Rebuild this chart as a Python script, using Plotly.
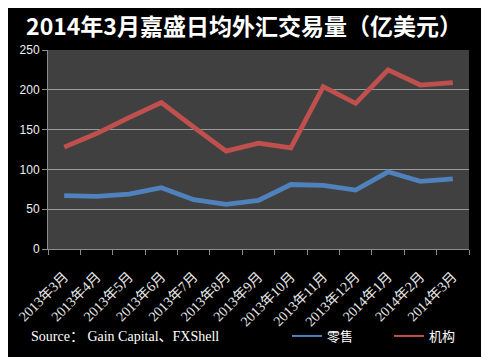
import plotly.graph_objects as go

categories = ["2013年3月", "2013年4月", "2013年5月", "2013年6月", "2013年7月", "2013年8月",
              "2013年9月", "2013年10月", "2013年11月", "2013年12月", "2014年1月", "2014年2月", "2014年3月"]
retail = [67, 66, 69, 77, 62, 56, 61, 81, 80, 74, 97, 85, 88]
institutional = [128, 145, 165, 184, 153, 123, 133, 127, 204, 183, 225, 206, 209]
y_ticks = [0, 50, 100, 150, 200, 250]
series_names = ["零售", "机构"]
series_colors = ["#4F81BD", "#C0504D"]

OFF = 8  # default page body margin
W, H = 493 - OFF, 357 - OFF
# plot area in reference pixel coordinates
PX0, PX1, PY0, PY1 = 48, 469, 50, 249
L, R, T, B = PX0 - OFF, W - (PX1 - OFF), PY0 - OFF, H - (PY1 - OFF)
pw, ph = PX1 - PX0, PY1 - PY0

def px_x(p):
    return (p - PX0) / pw

def px_y(p):
    return (PY1 - p) / ph

fig = go.Figure()
for name, vals, col in zip(series_names, [retail, institutional], series_colors):
    fig.add_trace(go.Scatter(x=categories, y=vals, name=name, mode="lines", showlegend=False,
                             legendgroup=name, line=dict(color=col, width=4.8)))
# legend entries with thin line samples, as in the reference
for name, col in zip(series_names, series_colors):
    fig.add_trace(go.Scatter(x=[None], y=[None], name=name, mode="lines", legendgroup=name,
                             line=dict(color=col, width=2)))

fig.update_layout(
    width=W, height=H,
    margin=dict(l=L, r=R, t=T, b=B, pad=0, autoexpand=False),
    paper_bgcolor="white",
    plot_bgcolor="rgba(0,0,0,0)",
    title=dict(text="<b>2014年3月嘉盛日均外汇交易量（亿美元）</b>",
               x=(244 - OFF) / W, xanchor="center", y=1 - (27 - OFF) / H, yanchor="middle",
               font=dict(family="Noto Sans CJK SC", size=23, color="white")),
    shapes=[
        dict(type="rect", xref="paper", yref="paper", layer="below",
             x0=px_x(OFF), x1=px_x(481), y0=px_y(357), y1=px_y(OFF),
             fillcolor="black", line=dict(width=0)),
        dict(type="rect", xref="paper", yref="paper", layer="below",
             x0=0, x1=1, y0=0, y1=1, fillcolor="#404040", line=dict(width=0)),
    ],
    xaxis=dict(
        type="category", tickangle=-45, showgrid=False, automargin=False,
        showline=True, linecolor="#8c8c8c", linewidth=1,
        ticks="outside", ticklen=5, tickcolor="#8c8c8c", tickson="boundaries",
        ticklabelstandoff=13,
        tickfont=dict(family="Liberation Serif, Noto Sans CJK SC", size=14, color="#e8e8e8"),
        range=[-0.5, len(categories) - 0.5],
    ),
    yaxis=dict(
        range=[0, 250], tickvals=y_ticks, showgrid=True, gridcolor="#9a9a9a", gridwidth=1,
        showline=True, linecolor="#8c8c8c", linewidth=1, automargin=False,
        ticks="outside", ticklen=5, tickcolor="#8c8c8c",
        tickfont=dict(family="Liberation Sans, Noto Sans", size=12, color="#f0f0f0"),
        zeroline=False,
    ),
    legend=dict(orientation="h", x=px_x(287), xanchor="left", y=px_y(336), yanchor="middle",
                bgcolor="rgba(0,0,0,0)", entrywidth=57, entrywidthmode="pixels",
                font=dict(family="Noto Sans CJK SC", size=13, color="white")),
    annotations=[
        dict(text="Source： Gain Capital、FXShell", xref="paper", yref="paper",
             x=px_x(29), xanchor="left", y=px_y(336), yanchor="middle", showarrow=False,
             font=dict(family="Liberation Serif, Noto Sans CJK SC", size=14, color="white")),
    ],
)

fig.write_html("out.html")
